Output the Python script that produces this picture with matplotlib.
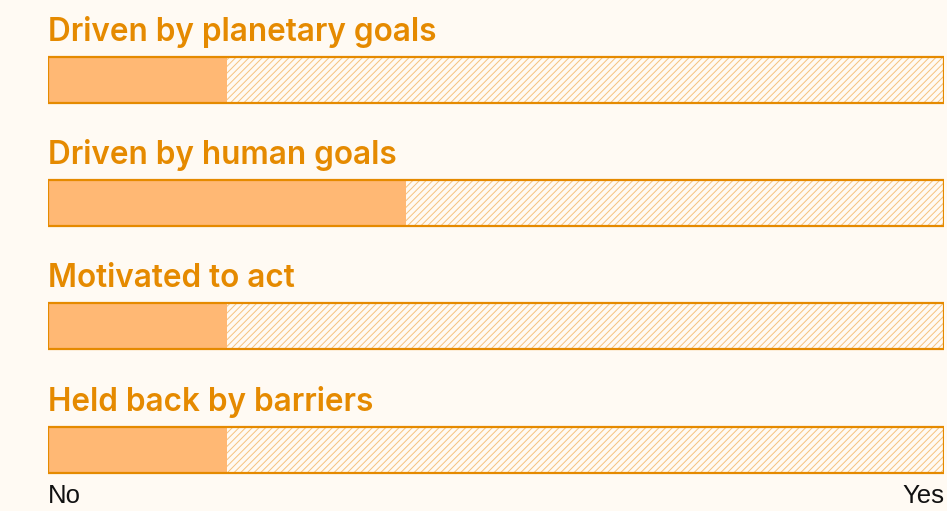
import matplotlib.pyplot as plt

# categories and share of "yes" (0 = No, 1 = Yes)
labels = ['Driven by planetary goals', 'Driven by human goals',
          'Motivated to act', 'Held back by barriers']
values = [0.2, 0.4, 0.2, 0.2]
scale_labels = ['No', 'Yes']

bg = '#FFFAF3'
orange = '#E58A00'
fill = '#FFB874'
hatch_col = '#F6C27E'

plt.rcParams['hatch.linewidth'] = 0.7

fig = plt.figure(figsize=(9.47, 5.11), dpi=100, facecolor=bg)
# axes spans the bar width, y in pixel rows (top = 0)
ax = fig.add_axes([48 / 947, 0, 896 / 947, 1])
ax.set_facecolor(bg)
ax.set_xlim(0, 1)
ax.set_ylim(511, 0)
ax.axis('off')

bar_top = [57, 180, 303, 427]
bar_h = 46

for lab, v, top in zip(labels, values, bar_top):
    yc = top + bar_h / 2
    # hatched background for the remaining part
    ax.barh(yc, 1, height=bar_h, left=0, color='none', edgecolor=hatch_col,
            hatch='/////', linewidth=0)
    ax.barh(yc, v, height=bar_h, left=0, color=fill, linewidth=0)
    ax.barh(yc, 1, height=bar_h, left=0, fill=False, edgecolor=orange,
            linewidth=1.6)
    ax.text(0, top - 16, lab, ha='left', va='baseline', fontsize=22.7,
            fontweight='semibold', color=orange, family='Inter')

ax.text(0, 503, scale_labels[0], ha='left', va='baseline', fontsize=18.5,
        color='#111111', family='Liberation Sans')
ax.text(1, 503, scale_labels[1], ha='right', va='baseline', fontsize=18.5,
        color='#111111', family='Liberation Sans')

fig.savefig('out.png', dpi=100, facecolor=bg)
